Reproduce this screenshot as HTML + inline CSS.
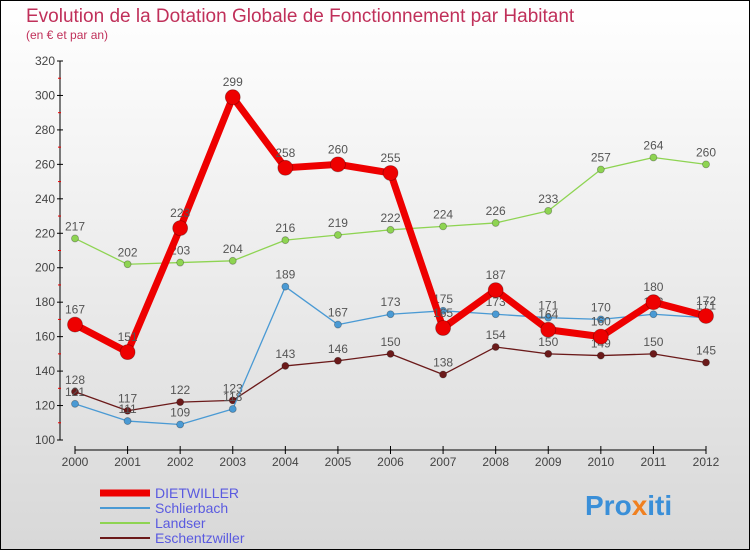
<!DOCTYPE html>
<html><head><meta charset="utf-8"><style>
body{margin:0;width:750px;height:550px;overflow:hidden;font-family:"Liberation Sans",sans-serif}
#c{position:absolute;left:0;top:0;width:748px;height:548px;border:1px solid #000;background:linear-gradient(#fff,#d8d8d8)}
</style></head><body>
<div id="c"></div>
<svg id="s" width="750" height="550" style="position:absolute;left:0;top:0" font-family="Liberation Sans, sans-serif">
<text x="26" y="22" font-size="19" fill="#c0305a">Evolution de la Dotation Globale de Fonctionnement par Habitant</text>
<text x="26" y="39" font-size="12" fill="#c0305a">(en € et par an)</text>
<g id="g"></g>
<text x="585" y="515" font-size="28" font-weight="bold" fill="#3a8fd8">Pro<tspan fill="#f08020">x</tspan>iti</text>
</svg>
<script>
const years=[2000,2001,2002,2003,2004,2005,2006,2007,2008,2009,2010,2011,2012];
const yTicks=[100,120,140,160,180,200,220,240,260,280,300,320];
const names=["DIETWILLER","Schlierbach","Landser","Eschentzwiller"];
const dietwiller=[167,151,223,299,258,260,255,165,187,164,160,180,172];
const schlierbach=[121,111,109,118,189,167,173,175,173,171,170,173,171];
const landser=[217,202,203,204,216,219,222,224,226,233,257,264,260];
const eschentzwiller=[128,117,122,123,143,146,150,138,154,150,149,150,145];
const series=[dietwiller,schlierbach,landser,eschentzwiller];
const colors=["#ee0000","#4a9ad4","#8ed452","#6b1a1a"];
const widths=[7,1.3,1.3,1.3];
const radii=[7.5,3.5,3.5,3.5];
const X=i=>75+i*(706-75)/(years.length-1);
const Y=v=>440-(v-100)*(440-61)/220;
const g=document.getElementById('g');const NS="http://www.w3.org/2000/svg";
function el(t,a,p){const e=document.createElementNS(NS,t);for(const k in a)e.setAttribute(k,a[k]);(p||g).appendChild(e);return e;}
let ax=el('line',{x1:60,y1:61,x2:60,y2:440,stroke:'#000'});


let bx=el('line',{x1:75,y1:450,x2:706,y2:450,stroke:'#000'});


yTicks.forEach((v,i)=>{const y=Y(v);el('line',{x1:57,y1:y,x2:63,y2:y,stroke:'#000'});
 if(i<yTicks.length-1)el('line',{x1:58,y1:Y(v+10),x2:61,y2:Y(v+10),stroke:'#e00'});
 const t=el('text',{x:55,y:y+4,'text-anchor':'end','font-size':12,fill:'#444'});t.textContent=v;
 
 });
years.forEach((yr,i)=>{const x=X(i);el('line',{x1:x,y1:446,x2:x,y2:454,stroke:'#000'});
 const t=el('text',{x:x,y:466,'text-anchor':'middle','font-size':12,fill:'#444'});t.textContent=yr;
 
 });
[3,2,1,0].forEach(s=>{const d=series[s];
 const p=el('polyline',{points:d.map((v,i)=>X(i)+','+Y(v)).join(' '),fill:'none',stroke:colors[s],'stroke-width':widths[s],'stroke-linejoin':'round'});
 
 
 d.forEach((v,i)=>{const c=el('circle',{cx:X(i),cy:Y(v),r:radii[s],fill:colors[s],stroke:'rgba(0,0,0,0.3)','stroke-width':0.8});
  
  
  const t=el('text',{x:X(i),y:Y(v)-(s==0?11:8),'text-anchor':'middle','font-size':12,fill:'#555'});t.textContent=v;
  
  });});
names.forEach((n,s)=>{const y=493+s*15;
 const l=el('line',{x1:100,y1:y,x2:150,y2:y,stroke:colors[s],'stroke-width':s==0?7:2});
 
 
 const t=el('text',{x:155,y:y+5,'font-size':14,fill:'#5a5ae0'});t.textContent=n;
 
 });
</script>
</body></html>
